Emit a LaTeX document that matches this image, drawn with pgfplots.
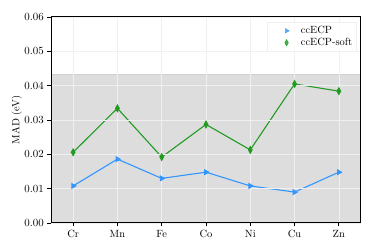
\documentclass[border=0pt]{standalone}
\usepackage{pgfplots}
\pgfplotsset{compat=1.18}
\definecolor{cblue}{RGB}{51,150,255}
\definecolor{cgreen}{RGB}{34,155,34}
\definecolor{shade}{RGB}{221,221,221}
\begin{document}
\fontsize{10.5}{12.5}\selectfont
\begin{tikzpicture}
\path (0,0) rectangle (374bp,250bp);
\begin{axis}[
  at={(51bp,27bp)}, anchor=south west,
  scale only axis, width=310bp, height=206bp,
  xmin=-0.5, xmax=6.5, ymin=0, ymax=0.06,
  xtick={0,1,2,3,4,5,6},
  xticklabels={Cr,Mn,Fe,Co,Ni,Cu,Zn},
  ytick={0,0.01,0.02,0.03,0.04,0.05,0.06},
  yticklabel style={/pgf/number format/.cd,fixed,fixed zerofill,precision=2},
  scaled y ticks=false,
  tick align=outside, xtick pos=bottom, ytick pos=left,
  major tick length=3.5bp,
  tick style={black, line width=0.8bp},
  axis line style={line width=1bp},
  grid=major, major grid style={black!6, line width=0.6bp},
  axis on top,
  ylabel={MAD (eV)},
  ylabel style={at={(-0.082,0.5)}},
  tick label style={font=\fontsize{10.5}{12}\selectfont},
  legend style={at={(0.985,0.975)}, anchor=north east, draw=black!6, fill=white, fill opacity=0.8, text opacity=1, font=\fontsize{10.5}{12}\selectfont, row sep=-1bp, inner sep=2bp},
  legend cell align=left,
  legend image code/.code={\node[draw=none, fill=none, inner sep=0pt, minimum width=1.05cm, minimum height=0pt, anchor=west] at (0cm,0cm) {}; \draw[#1] plot coordinates {(0.62cm,0cm)};},
]
\addplot[fill=shade, draw=black!18, line width=0.6bp, forget plot] coordinates {(-0.5,0.0434) (6.5,0.0434)} \closedcycle;
\addplot[cblue, line width=1.1bp, mark=triangle*, mark size=2.6bp, mark options={rotate=-90, solid}, forget plot]
coordinates {(0,0.0108) (1,0.0186) (2,0.0130) (3,0.0148) (4,0.0108) (5,0.0090) (6,0.0148)};
\addplot[cgreen, line width=1.1bp, mark=diamond*, mark size=3.2bp, mark options={xscale=0.75, solid}, forget plot]
coordinates {(0,0.0206) (1,0.0334) (2,0.0192) (3,0.0287) (4,0.0213) (5,0.0405) (6,0.0384)};
\addlegendimage{only marks, cblue, mark=triangle*, mark size=2.6bp, mark options={rotate=-90}}
\addlegendentry{ccECP}
\addlegendimage{only marks, cgreen, mark=diamond*, mark size=3.2bp, mark options={xscale=0.75}}
\addlegendentry{ccECP-soft}
\end{axis}
\end{tikzpicture}
\end{document}
